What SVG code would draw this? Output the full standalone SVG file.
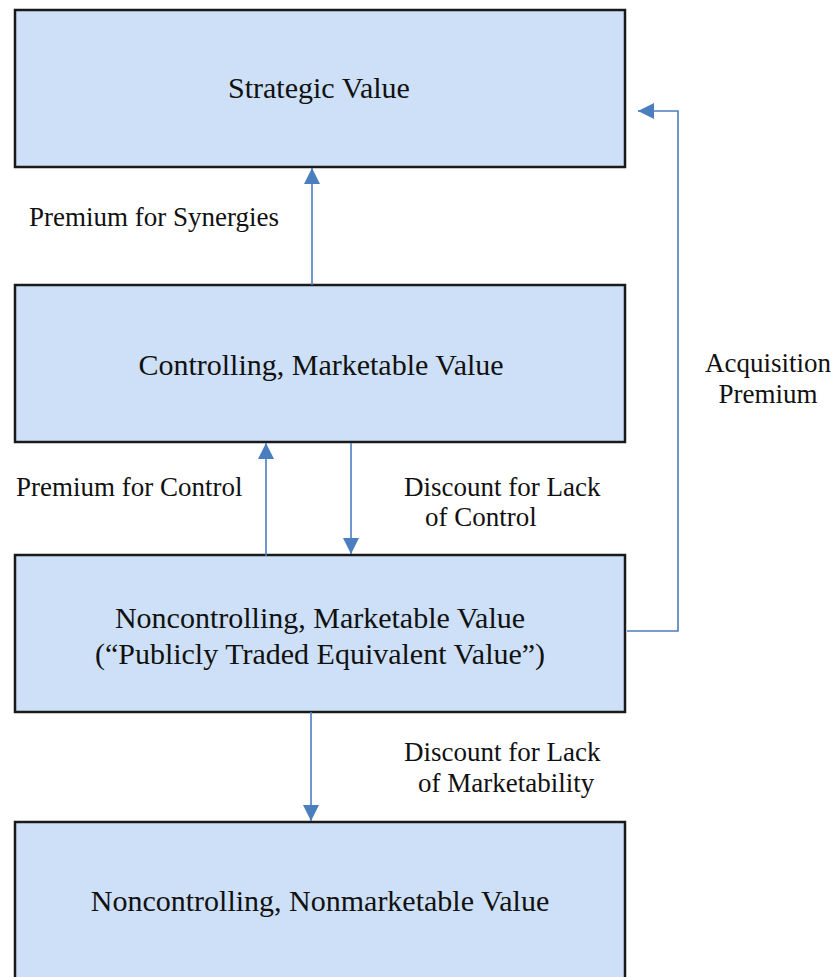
<svg xmlns="http://www.w3.org/2000/svg" width="833" height="977" viewBox="0 0 833 977">
<style>
.box{fill:#cde0f7;stroke:#1a1a1a;stroke-width:2.5}
text{font-family:'Liberation Serif','DejaVu Serif',serif;fill:#111}
.nt{font-size:30px;text-anchor:middle}
.lb{font-size:27px}
.cn{fill:none;stroke:#4a7ebf;stroke-width:1.6}
</style>
<defs>
<marker id="ah" viewBox="0 0 16 16" refX="16" refY="8" markerWidth="16" markerHeight="16" markerUnits="userSpaceOnUse" orient="auto">
<path d="M0,0 L16,8 L0,16 Z" fill="#4a7ebf"/>
</marker>
</defs>
<rect width="833" height="977" fill="#fff"/>
<g id="n1"><rect class="box" x="15" y="10" width="610" height="157"/><text class="nt" x="319" y="98">Strategic Value</text></g>
<g id="n2"><rect class="box" x="15" y="285" width="610" height="157"/><text class="nt" x="321" y="375">Controlling, Marketable Value</text></g>
<g id="n3"><rect class="box" x="15" y="555" width="610" height="157"/><text class="nt" x="320" y="628">Noncontrolling, Marketable Value</text><text class="nt" x="320" y="664">(“Publicly Traded Equivalent Value”)</text></g>
<g id="n4"><rect class="box" x="15" y="822" width="610" height="170"/><text class="nt" x="320" y="911">Noncontrolling, Nonmarketable Value</text></g>
<g id="connectors">
<path class="cn" d="M312,285 L312,168" marker-end="url(#ah)"/>
<path class="cn" d="M266,556 L266,443" marker-end="url(#ah)"/>
<path class="cn" d="M351,443 L351,554" marker-end="url(#ah)"/>
<path class="cn" d="M311,712 L311,821" marker-end="url(#ah)"/>
<path class="cn" d="M627,631 L678,631 L678,111 L638,111" marker-end="url(#ah)"/>
</g>
<g id="labels">
<text class="lb" x="29" y="226">Premium for Synergies</text>
<text class="lb" x="16" y="496">Premium for Control</text>
<text class="lb" x="404" y="496">Discount for Lack</text>
<text class="lb" x="425" y="526">of Control</text>
<text class="lb" x="768" y="372" text-anchor="middle">Acquisition</text>
<text class="lb" x="768" y="403" text-anchor="middle">Premium</text>
<text class="lb" x="404" y="761">Discount for Lack</text>
<text class="lb" x="418" y="792">of Marketability</text>
</g>
</svg>
